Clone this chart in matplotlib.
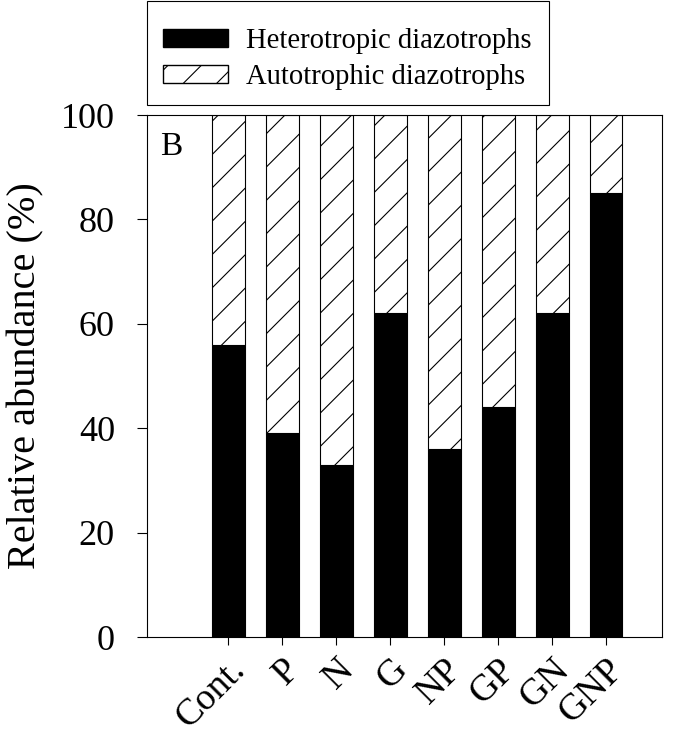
import numpy as np
import matplotlib.pyplot as plt
from matplotlib.patches import Patch, Rectangle

plt.rcParams['font.family'] = ['Liberation Serif', 'DejaVu Serif']
plt.rcParams['hatch.linewidth'] = 0.8

# data
treatments = ["Cont.", "P", "N", "G", "NP", "GP", "GN", "GNP"]
hetero = [56, 39, 33, 62, 36, 44, 62, 85]
auto = [100 - v for v in hetero]

x = np.arange(1, len(treatments) + 1)

fig = plt.figure(figsize=(6.75, 7.35), dpi=100)
ax = fig.add_axes([0.218, 0.1333, 0.763, 0.7102])

ax.bar(x, hetero, width=0.61, color="black", edgecolor="black", linewidth=0.8)
ax.bar(x, auto, width=0.61, bottom=hetero, color="white", edgecolor="black",
       linewidth=0.8, hatch="/")

ax.set_xlim(-0.5, 9.04)
ax.set_ylim(0, 100)
ax.set_yticks([0, 20, 40, 60, 80, 100])
ax.set_xticks(x)
ax.set_xticklabels(treatments, rotation=45, ha="right", va="top",
                   rotation_mode="anchor")
ax.tick_params(axis="both", direction="out", width=0.8, labelsize=26)
ax.tick_params(axis="x", length=6, pad=5, labelsize=27)
ax.tick_params(axis="y", length=7.2, pad=16)
ax.set_ylabel("Relative abundance (%)", fontsize=29, labelpad=12)
for s in ax.spines.values():
    s.set_linewidth(0.8)

ax.text(0.025, 0.968, "B", transform=ax.transAxes, fontsize=24, va="top", ha="left")

# legend box drawn separately so its padding can match the original
handles = [Patch(facecolor="black", edgecolor="black", label="Heterotropic diazotrophs"),
           Patch(facecolor="white", edgecolor="black", hatch="/", label="Autotrophic diazotrophs")]
leg = fig.legend(handles=handles, loc="upper left", bbox_to_anchor=(0.2163, 0.985),
                 fontsize=20.6, frameon=False,
                 borderpad=0.6, handlelength=2.25, handleheight=0.6,
                 handletextpad=0.65, labelspacing=0.36, borderaxespad=0)
fig.patches.append(Rectangle((147 / 675, 1 - 105 / 735), 402 / 675, 104 / 735,
                             transform=fig.transFigure, fill=False,
                             edgecolor="black", linewidth=0.8))

fig.savefig("out.png", dpi=100)
